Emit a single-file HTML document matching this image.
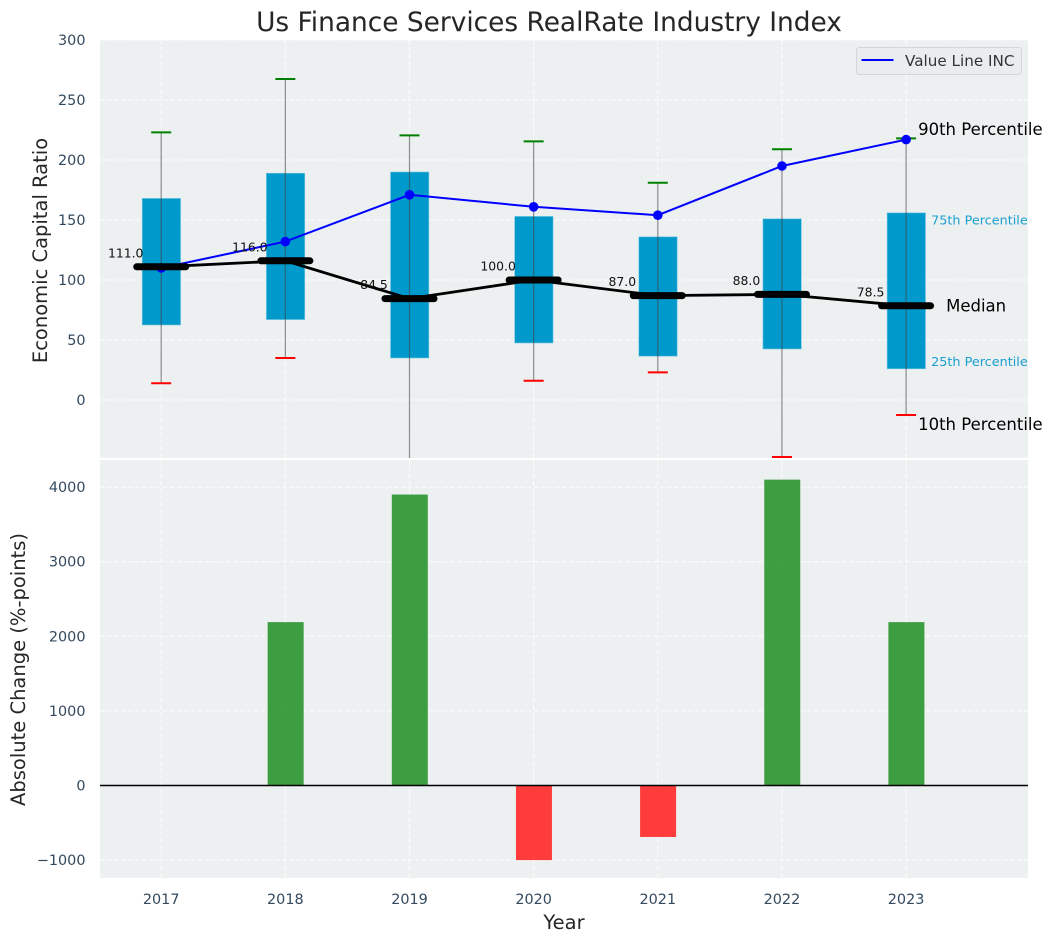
<!DOCTYPE html>
<html>
<head>
<meta charset="utf-8">
<title>Us Finance Services RealRate Industry Index</title>
<style>
html,body{margin:0;padding:0;background:#fff;}
svg{display:block;font-family:"DejaVu Sans","Liberation Sans",sans-serif;}
</style>
</head>
<body>
<svg id="chart" xmlns="http://www.w3.org/2000/svg" width="1053" height="942" viewBox="0 0 1053 942">
  <defs>
    <clipPath id="top-clip"><rect x="100" y="40" width="928" height="418"/></clipPath>
    <clipPath id="bottom-clip"><rect x="100" y="460" width="928" height="418"/></clipPath>
  </defs>
  <rect x="0" y="0" width="1053" height="942" fill="#ffffff"/>
  <rect x="100" y="40" width="928" height="418" fill="#ecf0f1"/>
  <rect x="100" y="460" width="928" height="418" fill="#ecf0f1"/>
  <g id="top-grid"></g>
  <g id="bottom-grid"></g>
  <g id="top-marks" clip-path="url(#top-clip)"></g>
  <g id="bottom-marks" clip-path="url(#bottom-clip)"></g>
  <g id="value-labels"></g>
  <g id="annotations"></g>
  <g id="ticks"></g>
  <text x="549" y="31" text-anchor="middle" font-size="26.4" fill="#262626">Us Finance Services RealRate Industry Index</text>
  <text transform="translate(47 250.5) rotate(-90)" text-anchor="middle" font-size="19.5" fill="#262626">Economic Capital Ratio</text>
  <text transform="translate(25 669.5) rotate(-90)" text-anchor="middle" font-size="19.5" fill="#262626">Absolute Change (%-points)</text>
  <text x="564" y="929" text-anchor="middle" font-size="19.5" fill="#262626">Year</text>
  <g>
    <rect x="856.5" y="47.5" width="165" height="27" rx="3" fill="#eaedf0" stroke="#d4d7da" stroke-width="1"/>
    <line x1="861.5" y1="60" x2="893.5" y2="60" stroke="#0000ff" stroke-width="2"/>
    <text x="905" y="66" font-size="15.2" fill="#333333">Value Line INC</text>
  </g>
</svg>
<script>
const years = [2017, 2018, 2019, 2020, 2021, 2022, 2023];
const p90 = [223, 267.5, 220.5, 215.5, 181, 209, 218];
const q75 = [168, 189, 190, 153, 136, 151, 156];
const medians = [111, 116, 84.5, 100, 87, 88, 78.5];
const q25 = [62.5, 67, 35, 47.5, 36.5, 42.5, 26];
const p10 = [14, 35, -90, 16, 23, -47.5, -12.5];
const valueLine = [110, 132, 171, 161, 154, 195, 217];
const changes = [0, 2190, 3900, -1000, -690, 4100, 2190];
const topTicks = [0, 50, 100, 150, 200, 250, 300];
const bottomTicks = [-1000, 0, 1000, 2000, 3000, 4000];

const NS = 'http://www.w3.org/2000/svg';
const xScale = v => 161.2 + (v - 2017) * 124.15;
const yTop = v => 400 - v * 1.2;
const yBottom = v => 785.5 - v * 0.0746;

function make(tag, parent, attrs, text) {
  const el = document.createElementNS(NS, tag);
  Object.keys(attrs).forEach(k => el.setAttribute(k, attrs[k]));
  if (text !== undefined) el.textContent = text;
  document.getElementById(parent).appendChild(el);
  return el;
}
const tickLabel = v => String(v).replace('-', '\u2212');
const gridStyle = {stroke: '#ffffff', 'stroke-width': 1, 'stroke-dasharray': '4.5 2.5', 'stroke-opacity': 0.9};

topTicks.forEach(t => {
  const el = make('line', 'top-grid', Object.assign({x1: 100, x2: 1028, y1: yTop(t), y2: yTop(t)}, gridStyle));
  
  
  const lab = make('text', 'ticks', {x: 85.5, y: yTop(t) + 5, 'text-anchor': 'end', 'font-size': 14.4, fill: '#34495e'}, tickLabel(t));
  
  
});
bottomTicks.forEach(t => {
  const el = make('line', 'bottom-grid', Object.assign({x1: 100, x2: 1028, y1: yBottom(t), y2: yBottom(t)}, gridStyle));
  
  
  const lab = make('text', 'ticks', {x: 85.5, y: yBottom(t) + 5, 'text-anchor': 'end', 'font-size': 14.4, fill: '#34495e'}, tickLabel(t));
  
  
});
years.forEach(y => {
  const g1 = make('line', 'top-grid', Object.assign({x1: xScale(y), x2: xScale(y), y1: 40, y2: 458}, gridStyle));
  
  
  const g2 = make('line', 'bottom-grid', Object.assign({x1: xScale(y), x2: xScale(y), y1: 460, y2: 878}, gridStyle));
  
  
  const lab = make('text', 'ticks', {x: xScale(y), y: 904, 'text-anchor': 'middle', 'font-size': 14.4, fill: '#34495e'}, y);
  
  
});

// Boxes (25th-75th percentile)
years.forEach((y, i) => {
  const box = make('rect', 'top-marks', {x: xScale(y) - 19, y: yTop(q75[i]), width: 38.4, height: yTop(q25[i]) - yTop(q75[i]), fill: '#0099cc', stroke: '#7cc8e2', 'stroke-width': 0.6});
  
  
});
// Whiskers and caps
years.forEach((y, i) => {
  const w = make('line', 'top-marks', {x1: xScale(y), x2: xScale(y), y1: yTop(p90[i]), y2: yTop(p10[i]), stroke: '#444444', 'stroke-opacity': 0.6, 'stroke-width': 1.2});
  
  
  const capHi = make('line', 'top-marks', {x1: xScale(y) - 10, x2: xScale(y) + 10, y1: yTop(p90[i]), y2: yTop(p90[i]), stroke: '#008000', 'stroke-width': 2});
  
  
  const capLo = make('line', 'top-marks', {x1: xScale(y) - 10, x2: xScale(y) + 10, y1: yTop(p10[i]), y2: yTop(p10[i]), stroke: '#ff0000', 'stroke-width': 2});
  
  
});
// Value Line series
const bluePath = make('polyline', 'top-marks', {points: years.map((y, i) => xScale(y) + ',' + yTop(valueLine[i])).join(' '), fill: 'none', stroke: '#0000ff', 'stroke-width': 2});


years.forEach((y, i) => {
  const dot = make('circle', 'top-marks', {cx: xScale(y), cy: yTop(valueLine[i]), r: 4.8, fill: '#0000ff'});
  
  
});
// Median series
const medPath = make('polyline', 'top-marks', {points: years.map((y, i) => xScale(y) + ',' + yTop(medians[i])).join(' '), fill: 'none', stroke: '#000000', 'stroke-width': 2.8});


years.forEach((y, i) => {
  const m = make('line', 'top-marks', {x1: xScale(y) - 24.5, x2: xScale(y) + 24.5, y1: yTop(medians[i]), y2: yTop(medians[i]), stroke: '#000000', 'stroke-width': 7, 'stroke-linecap': 'round'});
  
  
  const lab = make('text', 'value-labels', {x: xScale(y) - 35.5, y: yTop(medians[i]) - 9.5, 'text-anchor': 'middle', 'font-size': 12.4, fill: '#111111'}, medians[i].toFixed(1));
  
  
});

// Annotations on the last year
const last = years.length - 1;
const lx = xScale(years[last]);
const a90 = make('text', 'annotations', {x: lx + 12, y: yTop(p90[last]) - 3.5, 'font-size': 16.5, fill: '#000000'}, '90th Percentile');


const a75 = make('text', 'annotations', {x: lx + 25, y: yTop(q75[last]) + 11.5, 'font-size': 12.8, fill: '#1a9fcf'}, '75th Percentile');


const aMed = make('text', 'annotations', {x: lx + 40, y: yTop(medians[last]) + 5.5, 'font-size': 16.5, fill: '#000000'}, 'Median');


const a25 = make('text', 'annotations', {x: lx + 25, y: yTop(q25[last]) - 3, 'font-size': 12.8, fill: '#1a9fcf'}, '25th Percentile');


const a10 = make('text', 'annotations', {x: lx + 12, y: yTop(p10[last]) + 15, 'font-size': 16.5, fill: '#000000'}, '10th Percentile');



// Change bars
years.forEach((y, i) => {
  const v = changes[i];
  const top = Math.min(yBottom(v), yBottom(0));
  const h = Math.abs(yBottom(v) - yBottom(0));
  const bar = make('rect', 'bottom-marks', {x: xScale(y) - 17.7, y: top, width: 36, height: h, fill: v >= 0 ? '#2e9632' : '#ff2d2d', 'fill-opacity': 0.92});
  
  
});
const zero = make('line', 'bottom-marks', {x1: 100, x2: 1028, y1: yBottom(0), y2: yBottom(0), stroke: '#000000', 'stroke-width': 1.4});


</script>
</body>
</html>
